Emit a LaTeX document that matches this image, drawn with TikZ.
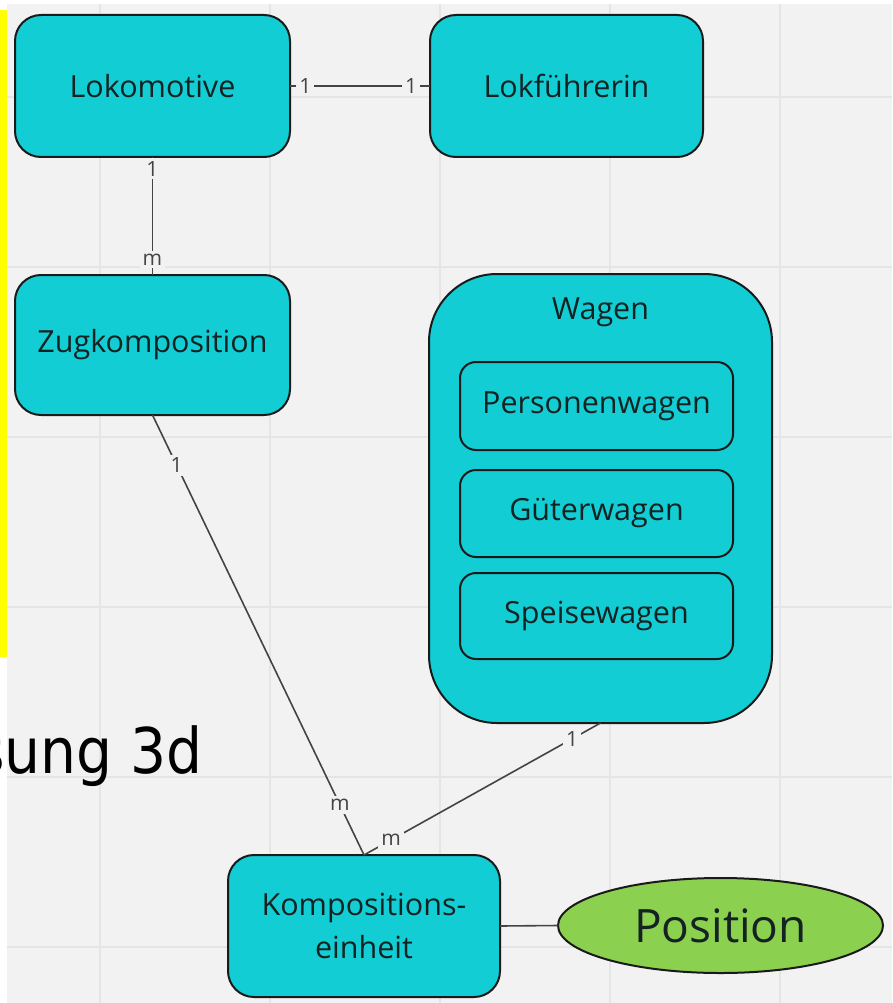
\documentclass[tikz,border=0pt]{standalone}
\usepackage{fontspec}
\setmainfont{Open Sans}
\newfontfamily\titlefont{DejaVu Sans Condensed}
\usetikzlibrary{shapes.geometric}

\definecolor{canvas}{HTML}{F2F2F2}
\definecolor{gridline}{HTML}{E5E5E5}
\definecolor{entity}{HTML}{13CDD4}
\definecolor{attr}{HTML}{8CD04F}
\definecolor{edge}{HTML}{1A1A1A}
\definecolor{ink}{HTML}{142222}
\definecolor{wire}{HTML}{444444}
\definecolor{marker}{HTML}{FFFF00}

\tikzset{
  entitybox/.style={draw=edge, line width=2pt, fill=entity, rounded corners=26pt,
    inner sep=0pt, outer sep=0pt, text=ink, align=center,
    font=\fontsize{30.5}{43}\selectfont},
  subbox/.style={entitybox, rounded corners=16pt, minimum width=273pt},
  attrbox/.style={ellipse, draw=edge, line width=2pt, fill=attr, inner sep=0pt,
    outer sep=0pt, text=ink, font=\fontsize{46}{50}\selectfont},
  wireline/.style={draw=wire, line width=1.6pt},
  card/.style={fill=canvas, text=wire, inner sep=3pt, font=\fontsize{21}{22}\selectfont},
}

\begin{document}
\begin{tikzpicture}[x=1pt,y=-1pt]
  \useasboundingbox (0,0) rectangle (892,1003);
  \clip (0,0) rectangle (892,1003);

  % canvas with grid
  \fill[white] (0,0) rectangle (892,1003);
  \fill[canvas] (7,4) rectangle (892,1003);
  \foreach \gx in {100,270,440,610,780}
    \draw[gridline, line width=2pt] (\gx,4) -- (\gx,1003);
  \foreach \gy in {97,267,437,607,777,947}
    \draw[gridline, line width=2pt] (7,\gy) -- (892,\gy);
  \fill[marker] (0,10) rectangle (7,657);

  % entities
  \node[entitybox, minimum width=275pt, minimum height=142pt] (lok) at (152.5,86) {Lokomotive};
  \node[entitybox, minimum width=273pt, minimum height=142pt] (lf) at (566.5,86) {Lokführerin};
  \node[entitybox, minimum width=275pt, minimum height=140pt] (zug) at (152.5,345) {Zugkomposition};
  \node[entitybox, rounded corners=68pt, minimum width=343pt, minimum height=449pt] (wagen) at (600.5,498.5) {};
  \node[text=ink, font=\fontsize{30.5}{43}\selectfont, inner sep=0pt] (wagentitle) at (600.5,312) {Wagen};
  \node[subbox, minimum height=88pt] (pw) at (596.5,406) {Personenwagen};
  \node[subbox, minimum height=87pt] (gw) at (596.5,513.5) {Güterwagen};
  \node[subbox, minimum height=86pt] (sw) at (596.5,616) {Speisewagen};
  \node[entitybox, minimum width=272pt, minimum height=142pt] (komp) at (364,926) {Kompositions-\\einheit};
  \node[attrbox, minimum width=325pt, minimum height=95pt] (pos) at (720.5,925.5) {Position};

  % relationships
  \draw[wireline] (lok.east) -- node[card, pos=0.11] {1} node[card, pos=0.865] {1} (lf.west);
  \draw[wireline] (lok.south) -- node[card, pos=0.10] {1} node[card, pos=0.87] {m} (zug.north);
  \draw[wireline] (zug.south) -- node[card, pos=0.114] {1} node[card, pos=0.886] {m} (komp.north);
  \draw[wireline] (wagen.south) -- node[card, pos=0.12] {1} node[card, pos=0.885] {m} (komp.north);
  \draw[wireline] (komp.east) -- (pos.west);

  % caption
  \node[anchor=base west, inner sep=0pt, text=black, font=\titlefont\fontsize{63}{70}\selectfont] (caption) at (-25,773) {sung 3d};
\end{tikzpicture}
\end{document}
